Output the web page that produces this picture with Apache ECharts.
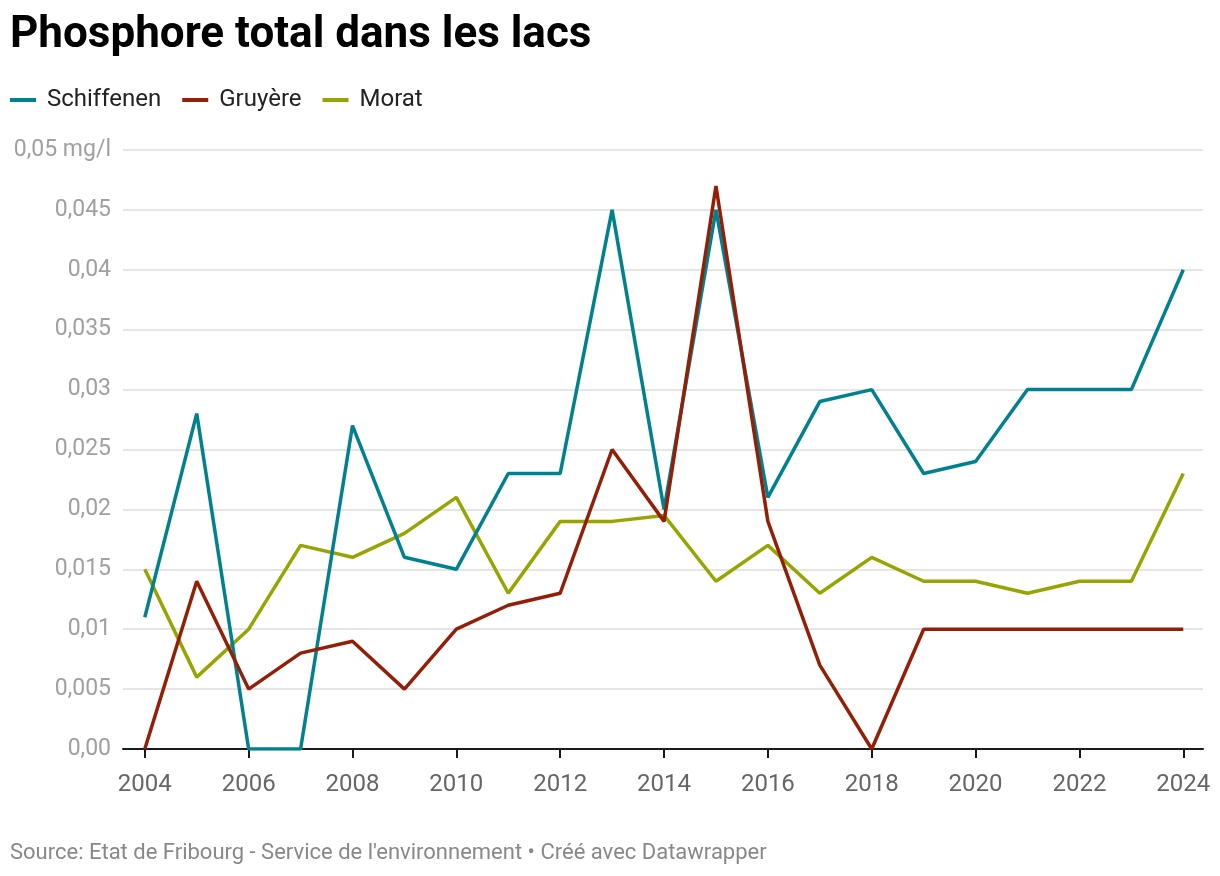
<!DOCTYPE html>
<html>
<head>
<meta charset="utf-8">
<script src="https://cdn.jsdelivr.net/npm/echarts@6/dist/echarts.min.js"></script>
<style>
html,body{margin:0;padding:0;background:#fff;}
#chart{width:1220px;height:876px;}
</style>
</head>
<body>
<div id="chart"></div>
<script>
const years = [2004,2005,2006,2007,2008,2009,2010,2011,2012,2013,2014,2015,2016,2017,2018,2019,2020,2021,2022,2023,2024];
const schiffenen = [0.011,0.028,0,0,0.027,0.016,0.015,0.023,0.023,0.045,0.020,0.045,0.021,0.029,0.030,0.023,0.024,0.030,0.030,0.030,0.040];
const gruyere = [0,0.014,0.005,0.008,0.009,0.005,0.010,0.012,0.013,0.025,0.019,0.047,0.019,0.007,0,0.010,0.010,0.010,0.010,0.010,0.010];
const morat = [0.015,0.006,0.010,0.017,0.016,0.018,0.021,0.013,0.019,0.019,0.0195,0.014,0.017,0.013,0.016,0.014,0.014,0.013,0.014,0.014,0.023];
const xTicks = [2004,2006,2008,2010,2012,2014,2016,2018,2020,2022,2024];
const seriesNames = ['Schiffenen','Gruyère','Morat'];
const colors = ['#00818f','#941f07','#97a500'];

const pairs = arr => years.map((y,i)=>[y,arr[i]]);
const font = 'Roboto, "Noto Sans", sans-serif';

const chart = echarts.init(document.getElementById('chart'));
chart.setOption({
  animation:false,
  backgroundColor:'#fff',
  title:{
    text:'Phosphore total dans les lacs',
    left:5, top:9,
    textStyle:{fontFamily:font, fontWeight:'bold', fontSize:44, color:'#000'}
  },
  legend:{
    left:5, top:83,
    icon:'rect', itemWidth:26, itemHeight:4, itemGap:21,
    textStyle:{fontFamily:font, fontSize:24, color:'#222', padding:[0,0,0,6]},
    data:seriesNames
  },
  grid:{left:123, right:17, top:150, bottom:127, containLabel:false},
  xAxis:{
    type:'value', min:2003.58, max:2024.38,
    axisLine:{show:true, onZero:false, lineStyle:{color:'#1a1a1a', width:2}},
    axisTick:{show:true, length:9, customValues:xTicks, lineStyle:{color:'#1a1a1a', width:2}},
    axisLabel:{customValues:xTicks, margin:24, fontFamily:font, fontSize:24, color:'#666', formatter:v=>String(Math.round(v))},
    splitLine:{show:false}
  },
  yAxis:{
    type:'value', min:0, max:0.05, interval:0.005,
    axisLine:{show:false}, axisTick:{show:false},
    axisLabel:{margin:12, fontFamily:font, fontSize:23, color:'#a0a0a0',
      formatter:v=>{
        if (v===0) return '0,00';
        const s = String(parseFloat(v.toFixed(3))).replace('.',',');
        return Math.abs(v-0.05)<1e-9 ? s+' mg/l' : s;
      }},
    splitLine:{show:true, lineStyle:{color:'#e5e5e5', width:2}}
  },
  series:[
    {name:seriesNames[0], type:'line', data:pairs(schiffenen), color:colors[0], symbol:'none', lineStyle:{width:3.5, color:colors[0]}, z:3},
    {name:seriesNames[1], type:'line', data:pairs(gruyere), color:colors[1], symbol:'none', lineStyle:{width:3.5, color:colors[1]}, z:4},
    {name:seriesNames[2], type:'line', data:pairs(morat), color:colors[2], symbol:'none', lineStyle:{width:3.5, color:colors[2]}, z:2}
  ],
  graphic:[{
    type:'text', left:10, top:842,
    style:{text:"Source: Etat de Fribourg - Service de l'environnement • Créé avec Datawrapper", fontFamily:font, fontSize:22, fill:'#888'}
  }]
});
</script>
</body>
</html>
